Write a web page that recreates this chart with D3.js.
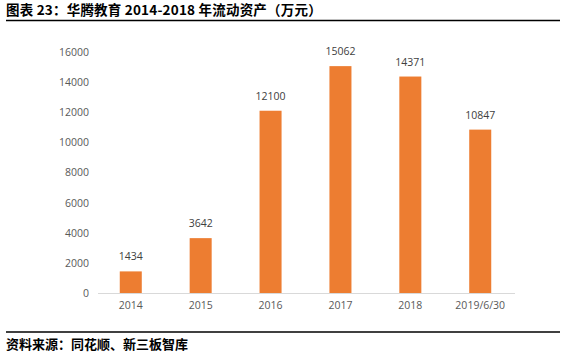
<!DOCTYPE html>
<html>
<head>
<meta charset="utf-8">
<script src="https://cdn.jsdelivr.net/npm/d3@7/dist/d3.min.js"></script>
<style>
  html, body { margin: 0; padding: 0; background: #fff; }
  svg { display: block; }
</style>
</head>
<body>
<script>
const categories = ["2014", "2015", "2016", "2017", "2018", "2019/6/30"];
const values = [1434, 3642, 12100, 15062, 14371, 10847];
const yTicks = [0, 2000, 4000, 6000, 8000, 10000, 12000, 14000, 16000];
const titleText = "图表 23：华腾教育 2014-2018 年流动资产（万元）";
const sourceText = "资料来源：同花顺、新三板智库";

const W = 566, H = 356;
const svg = d3.select("body").append("svg").attr("width", W).attr("height", H);

const cjk = "'Noto Sans CJK SC', 'Noto Sans', sans-serif";
const latin = "'Open Sans', 'Noto Sans', 'DejaVu Sans', sans-serif";

// title
svg.append("text").attr("x", 6).attr("y", 15)
  .style("font-family", cjk).style("font-weight", "bold").style("font-size", "13.5px")
  .style("letter-spacing", "0.2px")
  .attr("fill", "#000").text(titleText);
svg.append("line").attr("x1", 6).attr("x2", 560).attr("y1", 20.5).attr("y2", 20.5)
  .attr("stroke", "#000").attr("stroke-width", 1.3);

// source
svg.append("line").attr("x1", 6).attr("x2", 560).attr("y1", 332).attr("y2", 332)
  .attr("stroke", "#000").attr("stroke-width", 1.3);
svg.append("text").attr("x", 6).attr("y", 349)
  .style("font-family", cjk).style("font-weight", "bold").style("font-size", "13px")
  .attr("fill", "#000").text(sourceText);

const x = d3.scaleBand().domain(categories).range([96, 515]).paddingInner(0.685).paddingOuter(0.34);
const y = d3.scaleLinear().domain([0, 16000]).range([293, 52]);

// y axis labels
const yAxis = d3.axisLeft(y).tickValues(yTicks).tickSize(0).tickPadding(0).tickFormat(d3.format("d"));
const gy = svg.append("g").attr("transform", "translate(89,0)").call(yAxis);
gy.select(".domain").remove();
gy.selectAll("text").style("font-family", latin).style("font-size", "10.5px").attr("fill", "#595959");

// bars
svg.append("g").selectAll("rect").data(values).join("rect")
  .attr("x", (d, i) => x(categories[i]))
  .attr("width", x.bandwidth())
  .attr("y", d => y(d))
  .attr("height", d => y(0) - y(d))
  .attr("fill", "#ED7D31");

// x axis
const xAxis = d3.axisBottom(x).tickSize(0).tickPadding(9);
const gx = svg.append("g").attr("transform", `translate(0,${y(0)})`).call(xAxis);
gx.select(".domain").attr("stroke", "#d9d9d9").attr("d", "M98,0.5H515");
gx.selectAll("text").style("font-family", latin).style("font-size", "10.5px").attr("fill", "#595959");

// value labels
svg.append("g").selectAll("text").data(values).join("text")
  .attr("x", (d, i) => x(categories[i]) + x.bandwidth() / 2)
  .attr("y", d => y(d) - 11)
  .attr("text-anchor", "middle")
  .style("font-family", latin).style("font-size", "10.5px").attr("fill", "#404040")
  .text(d => d);
</script>
</body>
</html>
